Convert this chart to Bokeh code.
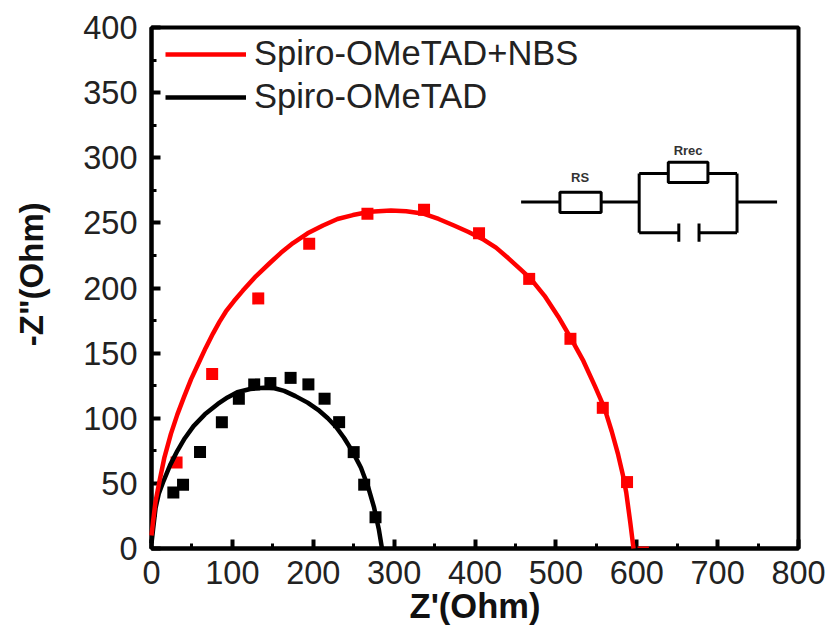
from bokeh.plotting import figure
from bokeh.models import Range1d, FixedTicker, Legend, LegendItem
from bokeh.core.properties import value
from bokeh.embed import file_html
from bokeh.resources import INLINE

red_pts_x = [31, 75, 132, 195, 267, 337, 405, 467, 518, 558, 588]
red_pts_y = [66, 134, 192, 234, 257, 260, 242, 207, 161, 108, 51]
black_pts_x = [27, 39, 60, 87, 108, 127, 147, 172, 194, 214, 232, 250, 263, 277]
black_pts_y = [43, 49, 74, 97, 115, 126, 127, 131, 126, 115, 97, 74, 49, 24]

red_fit_x = [0, 2, 5, 10, 16, 24, 32, 40, 49, 58, 67, 76, 84, 92, 102, 113, 129, 146, 160, 175, 193, 212, 230, 249, 270, 296, 315, 337, 355, 374, 392, 411, 426, 441, 455, 469, 486, 503, 519, 534, 548, 560, 569, 577, 583, 587, 592, 596]
red_fit_y = [10, 21, 36, 52, 70, 88, 103, 116, 130, 142, 154, 165, 174, 182, 190, 198, 209, 219, 227, 234.5, 242, 248, 253, 256, 258.5, 259.5, 259, 257, 253, 248, 243, 237, 231, 223, 215, 207, 194, 178, 161, 144, 125, 108, 90, 72, 56, 43, 20, 0]
red_tail_x = [601, 615]
red_tail_y = [1, 1]
black_fit_x = [0, 2, 5, 9, 15, 23, 32, 41, 52, 66, 82, 94, 106, 122, 139, 152, 164, 178, 193, 206, 218, 228, 238, 249, 259, 268, 275, 281, 285]
black_fit_y = [4, 15, 31, 42, 52, 64, 75, 84.5, 94, 103, 111, 116, 120, 122.5, 123.5, 123, 121, 117, 112, 106.5, 100, 93.5, 85, 74, 62, 47, 32, 15, 0]

x_ticks = [0, 100, 200, 300, 400, 500, 600, 700, 800]
y_ticks = [0, 50, 100, 150, 200, 250, 300, 350, 400]
series_names = ["Spiro-OMeTAD+NBS", "Spiro-OMeTAD"]

# equivalent-circuit inset, in data units
wire_xs = [[457, 505], [556, 603], [603, 639], [688, 724], [603, 603], [724, 724], [603, 652], [677, 724], [724, 773.5], [652, 652], [677, 677]]
wire_ys = [[266, 266], [266, 266], [288, 288], [288, 288], [288, 242.5], [288, 242.5], [242.5, 242.5], [242.5, 242.5], [266, 266], [249.5, 235.5], [249.5, 235.5]]
box_left = [505, 639]
box_right = [556, 688]
box_bottom = [258, 281]
box_top = [273.5, 296.5]
circuit_labels = ["RS", "Rrec"]
circuit_label_x = [530, 663.5]
circuit_label_y = [285, 305.5]

FONT = "Liberation Sans"

p = figure(width=826, height=628, output_backend="svg", toolbar_location=None,
           x_range=Range1d(0, 800), y_range=Range1d(0, 400),
           min_border_left=151, min_border_right=28, min_border_top=27, min_border_bottom=80,
           x_axis_label="Z'(Ohm)", y_axis_label='\u00a0\u00a0\u00a0-Z"(Ohm)')
p.frame_width = 647
p.frame_height = 521
p.grid.visible = False
p.outline_line_color = "black"
p.outline_line_width = 4
p.outline_line_alpha = 1
p.background_fill_color = "white"

for ax, ticks, standoff, lab_standoff, lab_size in ((p.xaxis[0], x_ticks, 12, 0, "34.5px"), (p.yaxis[0], y_ticks, 14, 30, "33px")):
    ax.ticker = FixedTicker(ticks=ticks, minor_ticks=[t + ticks[1] / 2 for t in ticks[:-1]])
    ax.axis_line_width = 4
    ax.axis_line_color = "black"
    ax.major_tick_line_width = 4
    ax.major_tick_line_color = "black"
    ax.minor_tick_line_width = 3
    ax.minor_tick_line_color = "black"
    ax.major_tick_in = 9
    ax.major_tick_out = 0
    ax.minor_tick_in = 5
    ax.minor_tick_out = 0
    ax.major_label_text_font = FONT
    ax.major_label_text_font_size = "32.5px"
    ax.major_label_text_color = "#222222"
    ax.major_label_standoff = standoff
    ax.axis_label_text_font = FONT
    ax.axis_label_text_font_size = lab_size
    ax.axis_label_text_font_style = "bold"
    ax.axis_label_text_color = "#111111"
    ax.axis_label_standoff = lab_standoff

# inset
p.multi_line(wire_xs, wire_ys, line_color="black", line_width=3)
p.quad(left=box_left, right=box_right, bottom=box_bottom, top=box_top,
       fill_color="white", line_color="black", line_width=3)
p.text(circuit_label_x, circuit_label_y, text=circuit_labels, text_font=value(FONT),
       text_font_size="13px", text_font_style="bold", text_align="center",
       text_baseline="middle", text_color="#333333")

p.scatter(red_pts_x, red_pts_y, marker="square", size=12, fill_color="#ff0000", line_width=0)
p.scatter(black_pts_x, black_pts_y, marker="square", size=12, fill_color="black", line_width=0)
black_line = p.line(black_fit_x, black_fit_y, line_color="black", line_width=4.5, line_join="round", level="annotation")
red_line = p.line(red_fit_x, red_fit_y, line_color="#ff0000", line_width=4.5, line_join="round", level="annotation")
p.line(red_tail_x, red_tail_y, line_color="#ff0000", line_width=1.5, level="annotation")

legend = Legend(items=[LegendItem(label=series_names[0], renderers=[red_line]),
                       LegendItem(label=series_names[1], renderers=[black_line])],
                location=(14, 432), padding=0, margin=0, spacing=4, glyph_width=81, glyph_height=38,
                label_standoff=8, label_text_font=FONT, label_text_font_size="34.5px",
                label_text_color="#222222", background_fill_alpha=0, border_line_alpha=0,
                label_height=38)
p.add_layout(legend, "center")

open("out.html", "w").write(file_html(p, INLINE))
